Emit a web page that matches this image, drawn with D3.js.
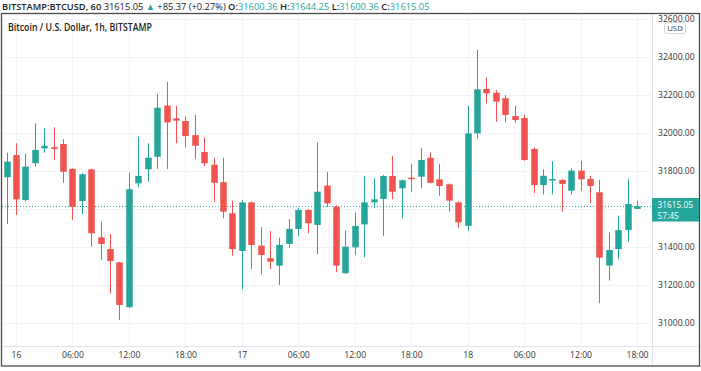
<!DOCTYPE html>
<html>
<head>
<meta charset="utf-8">
<script src="https://cdn.jsdelivr.net/npm/d3@7"></script>
<style>
  body { margin: 0; background: #fff; }
  svg { display: block; font-family: "Open Sans", "Noto Sans", sans-serif; }
</style>
</head>
<body>
<div id="chart"></div>
<script>
// hourly candles, first one is 15th 23:00
const start = new Date(2021, 5, 15, 23);
const opens  = [31767,31884,31647,31841,31919,31925,31942,31811,31642,31809,31451,31389,31319,31083,31735,31809,31875,32144,32077,32063,31989,31900,31833,31741,31577,31379,31635,31407,31341,31302,31416,31495,31595,31516,31723,31612,31262,31398,31519,31635,31653,31774,31709,31765,31770,31870,31756,31730,31635,31511,31998,32232,32212,32183,32089,32079,31916,31726,31751,31753,31696,31802,31758,31688,31302,31389,31489,31600.36];
const highs  = [31896,31946,31893,32051,32025,32030,31968,31815,31790,31812,31533,31468,31322,31791,31981,31946,32205,32268,32142,32086,32095,31977,31870,31870,31644,31647,31640,31504,31484,31449,31547,31607,31600,31951,31796,31620,31486,31581,31774,31762,31779,31879,31755,31837,31919,31898,31837,31735,31640,32142,32437,32293,32226,32200,32144,32095,31925,31809,31851,31758,31814,31854,31774,31753,31477,31565,31758,31644.25];
const lows   = [31521,31568,31640,31823,31896,31858,31738,31542,31572,31402,31332,31156,31016,31080,31714,31744,31811,31811,31946,31925,31863,31826,31638,31551,31354,31177,31284,31256,31284,31200,31396,31458,31472,31362,31612,31267,31260,31358,31346,31604,31459,31651,31551,31691,31709,31735,31670,31586,31498,31484,31972,32156,32059,32056,32054,31853,31683,31677,31677,31586,31677,31695,31630,31104,31223,31337,31428,31600.36];
const closes = [31849,31651,31823,31911,31933,31916,31796,31612,31783,31472,31416,31326,31095,31704,31774,31870,32133,32056,32065,31984,31933,31841,31738,31586,31389,31635,31411,31358,31323,31411,31495,31595,31525,31691,31630,31302,31402,31511,31635,31651,31774,31691,31751,31758,31858,31738,31721,31644,31530,31998,32230,32209,32165,32095,32068,31858,31726,31775,31758,31732,31802,31756,31721,31344,31384,31489,31626,31615.05];

const gridPrices = [31000, 31200, 31400, 31600, 31800, 32000, 32200, 32400, 32600];
// 31600 label sits under the last-price badge, so it is not shown
const labelPrices = [31000, 31200, 31400, 31800, 32000, 32200, 32400, 32600];
const timeLabels = ["16", "06:00", "12:00", "18:00", "17", "06:00", "12:00", "18:00", "18", "06:00", "12:00", "18:00"];

const lastPrice = 31615.05;
const countdown = "57:45";

const green = "#26a69a", red = "#ef5350", grid = "#f0f3fa";
const W = 701, H = 371;
const plotL = 2, plotR = 652, plotT = 13.5, plotB = 346;
const fs = 8.6;

const candles = opens.map((o, i) => ({
  t: d3.timeHour.offset(start, i),
  o: o, h: highs[i], l: lows[i], c: closes[i]
}));

const x = d3.scaleTime()
  .domain([new Date(2021, 5, 16, 0), new Date(2021, 5, 18, 18)])
  .range([16, 637]);

const y = d3.scaleLinear()
  .domain([31000, 32400])
  .range([323, 57]);

const svg = d3.select("#chart").append("svg")
  .attr("width", W).attr("height", H);

svg.append("rect").attr("width", W).attr("height", H).attr("fill", "#fff");

// grid
const tickTimes = d3.range(12).map(i => d3.timeHour.offset(new Date(2021, 5, 16, 0), i * 6));

svg.append("g").selectAll("line").data(tickTimes).join("line")
  .attr("x1", d => Math.round(x(d)) + 0.5).attr("x2", d => Math.round(x(d)) + 0.5)
  .attr("y1", plotT).attr("y2", plotB)
  .attr("stroke", grid);

svg.append("g").selectAll("line").data(gridPrices).join("line")
  .attr("x1", plotL).attr("x2", plotR)
  .attr("y1", d => Math.round(y(d)) + 0.5).attr("y2", d => Math.round(y(d)) + 0.5)
  .attr("stroke", grid);

// last price dotted line
svg.append("line")
  .attr("x1", plotL).attr("x2", plotR)
  .attr("y1", Math.round(y(lastPrice)) + 0.5).attr("y2", Math.round(y(lastPrice)) + 0.5)
  .attr("stroke", green).attr("stroke-dasharray", "1,2");

// candles
const bw = 6.5;
const cg = svg.append("g").selectAll("g").data(candles).join("g")
  .attr("fill", d => d.c >= d.o ? green : red)
  .attr("stroke", d => d.c >= d.o ? green : red);

cg.append("line")
  .attr("x1", d => Math.round(x(d.t)) + 0.5).attr("x2", d => Math.round(x(d.t)) + 0.5)
  .attr("y1", d => y(d.h)).attr("y2", d => y(d.l));

cg.append("rect")
  .attr("stroke", "none")
  .attr("x", d => Math.round(x(d.t)) + 0.5 - bw / 2)
  .attr("width", bw)
  .attr("y", d => y(Math.max(d.o, d.c)))
  .attr("height", d => Math.max(1.5, Math.abs(y(d.o) - y(d.c))));

// separators + border
svg.append("line").attr("x1", plotR + 0.5).attr("x2", plotR + 0.5).attr("y1", plotT).attr("y2", 366)
  .attr("stroke", "#e0e3eb");
svg.append("line").attr("x1", plotL).attr("x2", 699.5).attr("y1", plotB + 0.5).attr("y2", plotB + 0.5)
  .attr("stroke", "#e0e3eb");
svg.append("rect").attr("x", 1.5).attr("y", plotT).attr("width", 698).attr("height", 352.5)
  .attr("fill", "none").attr("stroke", "#4a4a4a").attr("stroke-width", 1.3);

// price axis
const yAxis = d3.axisRight(y).tickValues(labelPrices).tickSize(0).tickPadding(0)
  .tickFormat(d3.format(".2f"));
const ya = svg.append("g").attr("transform", `translate(658,0)`).call(yAxis);
ya.select(".domain").remove();
ya.selectAll("text").attr("font-size", fs).attr("fill", "#333").attr("font-family", "Open Sans, sans-serif");

// time axis
const xAxis = d3.axisBottom(x).tickValues(tickTimes).tickSize(0).tickPadding(0)
  .tickFormat((d, i) => timeLabels[i]);
const xa = svg.append("g").attr("transform", `translate(0,351.5)`).call(xAxis);
xa.select(".domain").remove();
xa.selectAll("text").attr("font-size", fs).attr("fill", "#333").attr("font-family", "Open Sans, sans-serif");

// USD badge
svg.append("rect").attr("x", 664.5).attr("y", 22.5).attr("width", 21).attr("height", 11).attr("rx", 2)
  .attr("fill", "#fff").attr("stroke", "#d6d6d6");
svg.append("text").attr("x", 675).attr("y", 31).attr("text-anchor", "middle")
  .attr("font-size", 7.8).attr("fill", "#333").text("USD");

// last price badge
svg.append("rect").attr("x", plotR).attr("y", 198).attr("width", 47).attr("height", 23.5).attr("fill", green);
svg.append("text").attr("x", 657.5).attr("y", 207.6).attr("font-size", 8.3).attr("fill", "#fff")
  .text(d3.format(".2f")(lastPrice));
svg.append("text").attr("x", 657.5).attr("y", 218.8).attr("font-size", 8.3).attr("fill", "#fff")
  .text(countdown);

// header
const last = candles[candles.length - 1];
const hdr = svg.append("text").attr("x", 2).attr("y", 9.5).attr("font-size", 9.3).attr("fill", "#222");
hdr.append("tspan").attr("font-weight", 600).text("BITSTAMP:BTCUSD, 60 ");
hdr.append("tspan").text(d3.format(".2f")(last.c) + " ");
hdr.append("tspan").attr("fill", green).text("▲");
hdr.append("tspan").text(" +85.37 (+0.27%) ");
[["O:", last.o], ["H:", last.h], ["L:", last.l], ["C:", last.c]].forEach(([k, v], i) => {
  hdr.append("tspan").attr("font-weight", 600).text(k);
  hdr.append("tspan").attr("fill", green).text(d3.format(".2f")(v) + (i < 3 ? " " : ""));
});

svg.append("text").attr("x", 8).attr("y", 31).attr("font-size", 9.8).attr("font-weight", 600)
  .attr("fill", "#222").attr("textLength", 144).attr("lengthAdjust", "spacingAndGlyphs")
  .text("Bitcoin / U.S. Dollar, 1h, BITSTAMP");
</script>
</body>
</html>
